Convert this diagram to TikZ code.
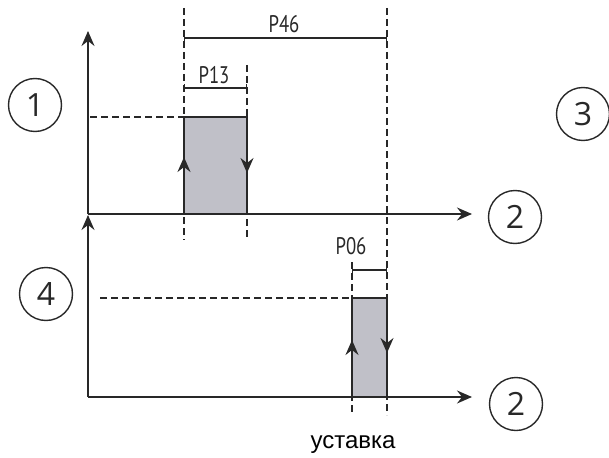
\documentclass[tikz,border=0pt]{standalone}
\usepackage{fontspec}
\setmainfont{Liberation Sans}
\newfontfamily\condfont[FakeStretch=0.78]{PT Sans}
\newfontfamily\digfont{Open Sans}
\usetikzlibrary{arrows.meta}
\definecolor{ink}{RGB}{40,40,40}
\definecolor{boxfill}{RGB}{192,192,200}
\tikzset{
  axisline/.style={draw=ink, line width=1.5pt, -{Stealth[length=15pt,width=13pt,inset=5pt]}},
  edgearrow/.style={draw=ink, line width=1.5pt, -{Stealth[length=15pt,width=13pt,inset=5pt]}},
  guide/.style={draw=ink, line width=1.2pt, dash pattern=on 7pt off 4pt},
  dimline/.style={draw=ink, line width=1.4pt, {Bar[width=8pt]}-{Bar[width=8pt]}},
  pulse/.style={draw=ink, line width=1.5pt, fill=boxfill},
  circlabel/.style={circle, draw=ink, line width=1.4pt, minimum size=53pt, inner sep=0pt, text=ink, font=\digfont\fontsize{32}{32}\selectfont},
  dimlabel/.style={font=\condfont\fontsize{24}{24}\selectfont, text=ink, inner sep=1pt},
}
\begin{document}
\begin{tikzpicture}[x=1pt,y=-1pt]
\useasboundingbox (0,0) rectangle (609,457);
% coordinates
\coordinate (o1) at (88,214);
\coordinate (y1) at (88,31);
\coordinate (x1) at (472,214);
\coordinate (o2) at (88,397);
\coordinate (y2) at (88,215);
\coordinate (x2) at (472,397);
% pulses
\draw[pulse] (184,117) rectangle (247,214);
\draw[pulse] (352,298) rectangle (387,397);
% guides
\draw[guide] (184,8) -- (184,240);
\draw[guide] (247,65) -- (247,240);
\draw[guide] (387,8) -- (387,415);
\draw[guide] (352,262) -- (352,415);
\draw[guide] (90,117) -- (184,117);
\draw[guide] (100,298) -- (352,298);
% edge arrows
\draw[edgearrow] (184,214) -- (184,157);
\draw[edgearrow] (247,117) -- (247,173);
\draw[edgearrow] (352,397) -- (352,340);
\draw[edgearrow] (387,298) -- (387,353);
% axes
\draw[axisline] (o1) -- (y1);
\draw[axisline] (o1) -- (x1);
\draw[axisline] (o2) -- (y2);
\draw[axisline] (o2) -- (x2);
% dimension lines
\draw[dimline] (184,38) -- (387,38);
\draw[dimline] (184,88) -- (247,88);
\draw[dimline] (352,270) -- (387,270);
\node[dimlabel] (p46) at (284,24) {P46};
\node[dimlabel] (p13) at (214,75) {P13};
\node[dimlabel] (p06) at (351,246) {P06};
% circled labels
\node[circlabel] (c1) at (35,105) {1};
\node[circlabel] (c3) at (583,114) {3};
\node[circlabel] (c2a) at (515,217) {2};
\node[circlabel] (c4) at (46,294) {4};
\node[circlabel] (c2b) at (516,404) {2};
% setpoint label
\node[font=\fontsize{24}{24}\selectfont, text=black, anchor=base, inner sep=0pt] (ust) at (353,448) {уставка};
\end{tikzpicture}
\end{document}
